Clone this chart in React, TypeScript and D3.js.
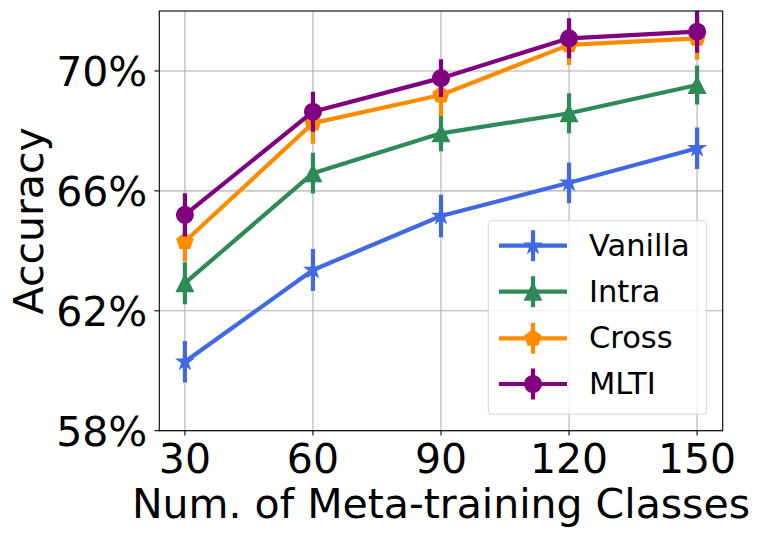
import React, { useEffect } from "react";
import * as d3 from "d3";

const classes = [30, 60, 90, 120, 150];
const seriesNames = ["Vanilla", "Intra", "Cross", "MLTI"];
const vanilla = [60.3, 63.36, 65.16, 66.27, 67.42];
const vanillaErr = [0.69, 0.7, 0.71, 0.68, 0.69];
const intra = [62.92, 66.59, 67.92, 68.59, 69.53];
const intraErr = [0.7, 0.68, 0.6, 0.67, 0.65];
const cross = [64.31, 68.26, 69.2, 70.87, 71.09];
const crossErr = [0.67, 0.69, 0.7, 0.67, 0.72];
const mlti = [65.2, 68.64, 69.76, 71.09, 71.31];
const mltiErr = [0.72, 0.67, 0.63, 0.67, 0.7];
const yTicks = [58, 62, 66, 70];
const xTicks = [30, 60, 90, 120, 150];

const W = 761;
const H = 539;
const left = 159.3;
const right = 722.7;
const top = 11;
const bottom = 430.7;

const colors = ["#4169e1", "#2e8b57", "#ff8c00", "#800080"];
const markerKinds = ["star", "tri", "pent", "circle"];
const values = [vanilla, intra, cross, mlti];
const errs = [vanillaErr, intraErr, crossErr, mltiErr];

const MS = 8.33; // half marker size (px)

function markerPath(kind: string, r: number): string {
  if (kind === "circle") {
    return `M${r},0A${r},${r} 0 1,1 ${-r},0A${r},${r} 0 1,1 ${r},0Z`;
  }
  if (kind === "tri") {
    return `M0,${-r}L${-r},${r}L${r},${r}Z`;
  }
  const pts: [number, number][] = [];
  if (kind === "pent") {
    for (let i = 0; i < 5; i++) {
      const a = -Math.PI / 2 + (i * 2 * Math.PI) / 5;
      pts.push([r * Math.cos(a), r * Math.sin(a)]);
    }
  } else {
    const ri = r * 0.381966;
    for (let i = 0; i < 10; i++) {
      const a = -Math.PI / 2 + (i * Math.PI) / 5;
      const rr = i % 2 === 0 ? r : ri;
      pts.push([rr * Math.cos(a), rr * Math.sin(a)]);
    }
  }
  return "M" + pts.map((p) => p.join(",")).join("L") + "Z";
}

export default function App() {
  useEffect(() => {
    document.body.style.margin = "0";
  }, []);
  const x = d3.scaleLinear().domain([24, 156]).range([left, right]);
  const y = d3.scaleLinear().domain([58, 72]).range([bottom, top]);
  const line = d3
    .line<number>()
    .x((_, i) => x(classes[i]))
    .y((d) => y(d));

  const font = "DejaVu Sans";
  const tickFs = 41;
  const legFs = 30.5;

  const legX0 = 488.3;
  const legY0 = 220.7;
  const legW = 218.4;
  const legH = 193.6;
  const legRows = [245.7, 291.7, 338.3, 384];

  return (
    <svg
      width={W}
      height={H}
      style={{ position: "absolute", left: 0, top: 0, background: "#fff" }}
      fontFamily={font}
    >
      <defs>
        <clipPath id="plotClip">
          <rect x={left} y={top} width={right - left} height={bottom - top} />
        </clipPath>
      </defs>
      <rect x={0} y={0} width={W} height={H} fill="#fff" />
      {/* grid */}
      <g stroke="#b0b0b0" strokeWidth={1.1}>
        {xTicks.map((t) => (
          <line key={"gx" + t} x1={x(t)} x2={x(t)} y1={top} y2={bottom} />
        ))}
        {yTicks.map((t) => (
          <line key={"gy" + t} x1={left} x2={right} y1={y(t)} y2={y(t)} />
        ))}
      </g>
      {/* series */}
      <g clipPath="url(#plotClip)">
        {values.map((vals, si) => (
          <g key={seriesNames[si]}>
            {vals.map((v, i) => (
              <line
                key={"e" + i}
                x1={x(classes[i])}
                x2={x(classes[i])}
                y1={y(v - errs[si][i])}
                y2={y(v + errs[si][i])}
                stroke={colors[si]}
                strokeWidth={4.2}
              />
            ))}
            <path
              d={line(vals) || ""}
              fill="none"
              stroke={colors[si]}
              strokeWidth={4.2}
              strokeLinejoin="round"
              strokeLinecap="butt"
            />
            {vals.map((v, i) => (
              <path
                key={"m" + i}
                transform={`translate(${x(classes[i])},${y(v)})`}
                d={markerPath(markerKinds[si], MS)}
                fill={colors[si]}
                stroke={colors[si]}
                strokeWidth={1.4}
                strokeLinejoin="miter"
              />
            ))}
          </g>
        ))}
      </g>
      {/* spines */}
      <rect
        x={left}
        y={top}
        width={right - left}
        height={bottom - top}
        fill="none"
        stroke="#000"
        strokeWidth={1.1}
      />
      {/* y ticks */}
      {yTicks.map((t) => (
        <g key={"yt" + t}>
          <line x1={left - 4.9} x2={left} y1={y(t)} y2={y(t)} stroke="#000" strokeWidth={1.1} />
          <text
            x={left - 12}
            y={y(t) + 0.365 * tickFs}
            fontSize={tickFs}
            textAnchor="end"
            fill="#000"
          >
            {t}%
          </text>
        </g>
      ))}
      {/* x ticks */}
      {xTicks.map((t) => (
        <g key={"xt" + t}>
          <line x1={x(t)} x2={x(t)} y1={bottom} y2={bottom + 4.9} stroke="#000" strokeWidth={1.1} />
          <text x={x(t)} y={472.7} fontSize={tickFs} textAnchor="middle" fill="#000">
            {t}
          </text>
        </g>
      ))}
      {/* axis labels */}
      <text x={(left + right) / 2} y={518} fontSize={tickFs} textAnchor="middle" fill="#000">
        Num. of Meta-training Classes
      </text>
      <text
        transform={`translate(43.2,${(top + bottom) / 2}) rotate(-90)`}
        fontSize={tickFs}
        textAnchor="middle"
        fill="#000"
      >
        Accuracy
      </text>
      {/* legend */}
      <g>
        <rect
          x={legX0}
          y={legY0}
          width={legW}
          height={legH}
          rx={4}
          ry={4}
          fill="#fff"
          fillOpacity={0.8}
          stroke="#cccccc"
          strokeOpacity={0.8}
          strokeWidth={1.1}
        />
        {seriesNames.map((name, si) => {
          const ry = legRows[si];
          const cx = 533;
          return (
            <g key={"leg" + name}>
              <line x1={cx} x2={cx} y1={ry - 15.5} y2={ry + 15.5} stroke={colors[si]} strokeWidth={4.2} />
              <line x1={499} x2={567} y1={ry} y2={ry} stroke={colors[si]} strokeWidth={4.2} />
              <path
                transform={`translate(${cx},${ry})`}
                d={markerPath(markerKinds[si], MS)}
                fill={colors[si]}
                stroke={colors[si]}
                strokeWidth={1.4}
              />
              <text x={589} y={ry + 10} fontSize={legFs} fill="#000">
                {name}
              </text>
            </g>
          );
        })}
      </g>
    </svg>
  );
}
